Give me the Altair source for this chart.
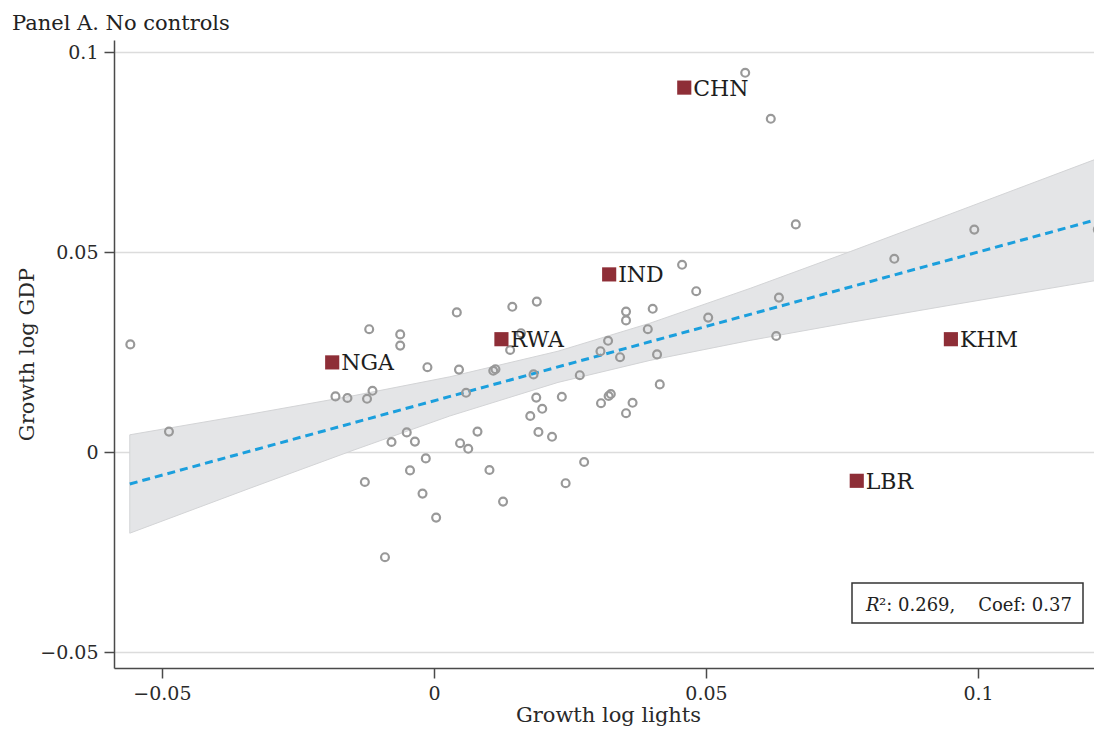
import altair as alt
import pandas as pd

# ---------------- data ----------------
x_lights = [-0.0558, -0.0487, -0.0119, -0.0062, -0.0062, 0.0042, -0.0012, 0.0046, -0.0181, -0.0159,
            -0.0113, -0.0123, 0.0059, -0.0050, -0.0078, -0.0035, 0.0048, 0.0063, 0.0080, -0.0015,
            -0.0044, -0.0127, -0.0021, 0.0004, -0.0090, 0.0144, 0.0189, 0.0113, 0.0109, 0.0140,
            0.0160, 0.0183, 0.0188, 0.0199, 0.0177, 0.0235, 0.0192, 0.0217, 0.0102, 0.0127,
            0.0242, 0.0276, 0.0268, 0.0306, 0.0320, 0.0342, 0.0353, 0.0353, 0.0402, 0.0393,
            0.0410, 0.0482, 0.0504, 0.0415, 0.0307, 0.0325, 0.0321, 0.0365, 0.0353, 0.0572,
            0.0619, 0.0665, 0.0993, 0.0846, 0.1220, 0.0456, 0.0634, 0.0629]
y_gdp = [0.0269, 0.0051, 0.0307, 0.0294, 0.0266, 0.0349, 0.0212, 0.0206, 0.0139, 0.0135,
         0.0153, 0.0133, 0.0148, 0.0049, 0.0025, 0.0026, 0.0022, 0.0008, 0.0051, -0.0016,
         -0.0046, -0.0075, -0.0104, -0.0164, -0.0263, 0.0363, 0.0376, 0.0207, 0.0203, 0.0255,
         0.0297, 0.0194, 0.0136, 0.0108, 0.0090, 0.0138, 0.0050, 0.0038, -0.0045, -0.0124,
         -0.0078, -0.0025, 0.0192, 0.0252, 0.0278, 0.0237, 0.0351, 0.0329, 0.0358, 0.0307,
         0.0244, 0.0402, 0.0336, 0.0169, 0.0122, 0.0145, 0.0140, 0.0123, 0.0097, 0.0948,
         0.0833, 0.0569, 0.0556, 0.0483, 0.0556, 0.0468, 0.0386, 0.0290]

lab_code = ["CHN", "IND", "RWA", "NGA", "KHM", "LBR"]
lab_x = [0.0460, 0.0322, 0.0124, -0.0187, 0.0950, 0.0777]
lab_y = [0.0911, 0.0444, 0.0282, 0.0224, 0.0282, -0.0072]

fit_x = [-0.0559, 0.1222]
fit_y = [-0.0080, 0.05825]

band_x = [-0.0559, -0.0338, -0.0147, 0.0029, 0.0228, 0.0397, 0.0581, 0.0765, 0.0949, 0.1222]
band_lo = [-0.0203, -0.00905, 0.0005, 0.0090, 0.0174, 0.0229, 0.0279, 0.0324, 0.0367, 0.0430]
band_hi = [0.0043, 0.00945, 0.0141, 0.0188, 0.0252, 0.0322, 0.0409, 0.0501, 0.0595, 0.0735]

x_ticks = [-0.05, 0, 0.05, 0.1]
y_ticks = [-0.05, 0, 0.05, 0.1]

panel_title = "Panel A. No controls"
x_title = "Growth log lights"
y_title = "Growth log GDP"
stat_r = "R"
stat_rest = "\u00b2: 0.269,\u00a0\u00a0\u00a0\u00a0Coef: 0.37"

# ---------------- chart ----------------
FONT = "DejaVu Serif"
W, H = 980, 628

pts = pd.DataFrame({"x": x_lights, "y": y_gdp})
labs = pd.DataFrame({"x": lab_x, "y": lab_y, "code": lab_code})
fit = pd.DataFrame({"x": fit_x, "y": fit_y})
band = pd.DataFrame({"x": band_x, "lo": band_lo, "hi": band_hi})

xs = alt.Scale(domain=[-0.0588, 0.1213], nice=False, zero=False)
ys = alt.Scale(domain=[-0.054, 0.103], nice=False, zero=False)

x_axis = alt.Axis(values=x_ticks, format="~g", grid=False, title=x_title,
                  titleX=494, titleY=53, titleBaseline="alphabetic", titleAlign="center",
                  titleAnchor="middle")
y_axis = alt.Axis(values=y_ticks, format="~g", grid=True, title=y_title,
                  titleX=-87, titleY=314, titleAngle=270, titleBaseline="middle",
                  titleAlign="center", titleAnchor="middle")


def X(f):
    return alt.X(f, type="quantitative", scale=xs, axis=x_axis)


def Y(f):
    return alt.Y(f, type="quantitative", scale=ys, axis=y_axis)


band_layer = alt.Chart(band).mark_area(
    color="#e4e5e7", stroke="#d3d4d6", strokeWidth=1, opacity=1
).encode(x=X("x"), y=Y("lo"), y2="hi")

fit_layer = alt.Chart(fit).mark_line(
    color="#1b9fdd", strokeWidth=3, strokeDash=[8, 5]
).encode(x=X("x"), y=Y("y"))

pt_layer = alt.Chart(pts).mark_point(
    shape="circle", filled=False, color="#999999", strokeWidth=2.2, size=62, opacity=1
).encode(x=X("x"), y=Y("y"))

sq_layer = alt.Chart(labs).mark_square(
    color="#8e2e37", size=200, opacity=1
).encode(x=X("x"), y=Y("y"))

lab_layer = alt.Chart(labs).mark_text(
    font=FONT, fontSize=22, color="#1e1e1e", align="left", baseline="alphabetic", dx=9, dy=8
).encode(x=X("x"), y=Y("y"), text="code:N")

one = pd.DataFrame({"t": [panel_title]})
title_layer = alt.Chart(one).mark_text(
    font=FONT, fontSize=21, color="#222222", align="left", baseline="alphabetic"
).encode(x=alt.value(-102), y=alt.value(-10), text="t:N")

box = pd.DataFrame({"t": [stat_rest]})
box_layer = alt.Chart(box).mark_rect(
    fill="white", stroke="#333333", strokeWidth=1.5
).encode(x=alt.value(738), x2=alt.value(969), y=alt.value(543), y2=alt.value(583))

r_layer = alt.Chart(pd.DataFrame({"t": [stat_r]})).mark_text(
    font=FONT, fontSize=18, fontStyle="italic", color="#222222", align="left", baseline="alphabetic"
).encode(x=alt.value(752), y=alt.value(571), text="t:N")

rest_layer = alt.Chart(box).mark_text(
    font=FONT, fontSize=18, color="#222222", align="left", baseline="alphabetic"
).encode(x=alt.value(765), y=alt.value(571), text="t:N")

chart = alt.layer(
    band_layer, fit_layer, pt_layer, sq_layer, lab_layer, title_layer, box_layer, r_layer, rest_layer
).properties(
    width=W, height=H,
    autosize=alt.AutoSizeParams(type="none"),
    padding={"left": 106, "top": 32, "right": 0, "bottom": 58},
).configure_view(
    stroke=None
).configure_axis(
    domainColor="#4a4a4a", domainWidth=1.5,
    tickColor="#4a4a4a", tickWidth=1.5, tickSize=10,
    labelFont=FONT, labelFontSize=19, labelColor="#2a2a2a", labelPadding=6,
    titleFont=FONT, titleFontSize=21, titleColor="#2a2a2a", titleFontWeight="normal",
    gridColor="#dcdcdc", gridWidth=1.5,
)

chart.save("out.html", embed_options={"renderer": "svg", "actions": False})
